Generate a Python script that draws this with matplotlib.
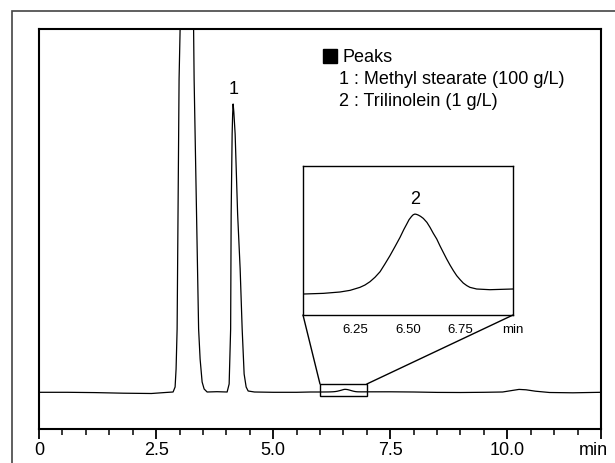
import matplotlib
matplotlib.use("Agg")
import matplotlib.pyplot as plt
import matplotlib.transforms as mtransforms
from matplotlib.patches import Rectangle, ConnectionPatch

plt.rcParams['font.family'] = ['Liberation Sans', 'DejaVu Sans']

# chromatogram: time (min), signal (arbitrary units, baseline = 0)
time = [0.0, 0.6, 1.2, 1.8, 2.4, 2.7,
        2.863, 2.906, 2.927, 2.949, 2.991, 3.013, 3.034, 3.162, 3.280, 3.301, 3.312,
        3.408, 3.440, 3.483, 3.526, 3.590, 3.8,
        4.017, 4.060, 4.092, 4.103, 4.124, 4.135, 4.145, 4.160, 4.188, 4.241, 4.295,
        4.338, 4.380, 4.423, 4.466, 4.6, 5.0, 5.5, 5.8,
        6.002, 6.097, 6.176, 6.224, 6.271, 6.295, 6.319, 6.343, 6.367, 6.39, 6.414,
        6.438, 6.462, 6.48, 6.494, 6.505, 6.517, 6.525, 6.533, 6.541, 6.549, 6.56,
        6.573, 6.59, 6.605, 6.62, 6.637, 6.652, 6.668, 6.684, 6.700, 6.716, 6.732,
        6.748, 6.763, 6.78, 6.795, 6.827, 6.890, 6.998,
        7.5, 8.0, 8.5, 9.0, 9.5, 9.9, 10.1, 10.25, 10.4, 10.6, 10.9, 11.4, 12.0]
signal = [-0.3, -0.3, -0.6, -1.2, -1.5, -0.5,
          0, 5, 23, 63, 313, 363, 493, 700, 493, 363, 313,
          63, 33, 10, 3, 0, 0.3,
          0, 8, 63, 178, 258, 278, 288, 280, 258, 178, 123,
          63, 18, 5, 1, 0, -0.3, -0.3, 0,
          0.0, 0.022, 0.067, 0.122, 0.222, 0.3, 0.411, 0.56, 0.744, 1.0, 1.278,
          1.58, 1.889, 2.15, 2.333, 2.48, 2.589, 2.645, 2.667, 2.655, 2.633, 2.59,
          2.522, 2.39, 2.222, 2.03, 1.833, 1.61, 1.389, 1.17, 0.967, 0.78, 0.611,
          0.48, 0.367, 0.28, 0.222, 0.167, 0.144, 0.167,
          0.2, 0.0, -0.4, -0.5, -0.3, 0.0, 1.5, 2.6, 2.2, 0.8, -0.5, -0.8, -0.3]

main_ticks = [0, 2.5, 5.0, 7.5, 10.0, 12.0]
main_labels = ['0', '2.5', '5.0', '7.5', '10.0', 'min']
inset_ticks = [6.25, 6.50, 6.75, 7.0]
inset_labels = ['6.25', '6.50', '6.75', 'min']

peaks_title = 'Peaks'
peak_names = ['1 : Methyl stearate (100 g/L)', '2 : Trilinolein (1 g/L)']

fig = plt.figure(figsize=(6.15, 4.64), dpi=100)

# outer frame
fig.add_artist(Rectangle((12 / 615, -0.5), 2, 1 - 12 / 464 + 0.5, transform=fig.transFigure,
                         fill=False, edgecolor='#444444', lw=1.2, clip_on=False))

ax = fig.add_axes([39 / 615, 1 - 430 / 464, 562 / 615, 400 / 464])
ax.plot(time, signal, color='black', lw=0.9)
ax.set_xlim(0, 12)
ax.set_ylim(-37, 363)
ax.set_yticks([])
ax.set_xticks(main_ticks)
ax.set_xticklabels(main_labels, fontsize=13)
ax.set_xticks([x * 0.5 for x in range(25)], minor=True)
ax.tick_params(axis='x', which='major', direction='out', length=7, width=1.3, pad=2)
ax.tick_params(axis='x', which='minor', direction='out', length=4, width=1.1)
for s in ax.spines.values():
    s.set_linewidth(1.5)
lab = ax.get_xticklabels()[-1]
lab.set_transform(lab.get_transform() + mtransforms.ScaledTranslation(-8 / 100, 0, fig.dpi_scale_trans))

ax.text(4.15, 304, '1', ha='center', va='center', fontsize=13)

# peak list
ax.plot([6.21], [336], marker='s', markersize=9.4, color='black', clip_on=False)
ax.text(6.49, 336, peaks_title, ha='left', va='center', fontsize=13)
ax.text(6.41, 314, peak_names[0], ha='left', va='center', fontsize=13)
ax.text(6.41, 291, peak_names[1], ha='left', va='center', fontsize=13)

# zoom box on main trace
ax.add_patch(Rectangle((6.0, -4), 1.0, 12, fill=False, edgecolor='black', lw=1.0))

# inset
axin = fig.add_axes([303 / 615, 1 - 316 / 464, 210 / 615, 149 / 464])
axin.plot(time, signal, color='black', lw=0.9)
axin.set_xlim(6.0, 7.0)
axin.set_ylim(-0.7, 4.27)
axin.set_yticks([])
axin.set_xticks(inset_ticks)
axin.set_xticklabels(inset_labels, fontsize=9.5)
axin.tick_params(axis='x', length=0, pad=6)
for s in axin.spines.values():
    s.set_linewidth(1.0)
axin.text(6.533, 3.2, '2', ha='center', va='center', fontsize=13)

for xa in [6.0, 7.0]:
    con = ConnectionPatch(xyA=(xa, -0.7), coordsA=axin.transData,
                          xyB=(xa, 8), coordsB=ax.transData, color='black', lw=1.0)
    fig.add_artist(con)

fig.savefig('out.png', dpi=100)
